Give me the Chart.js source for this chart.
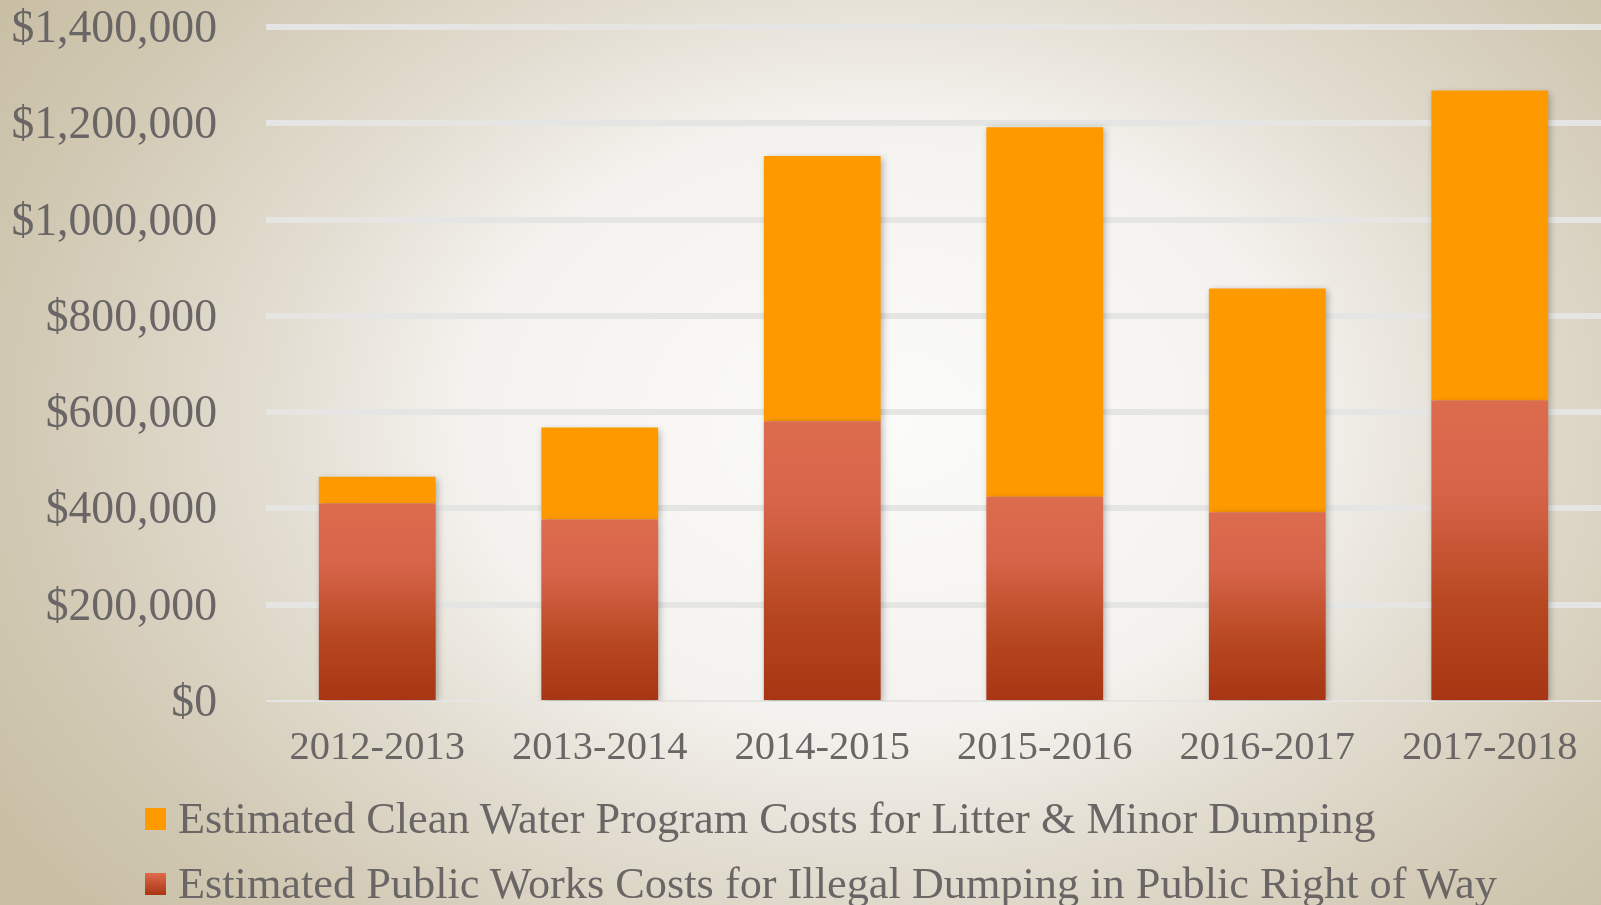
<!DOCTYPE html>
<html>
<head>
<meta charset="utf-8">
<script src="https://cdn.jsdelivr.net/npm/chart.js@4"></script>
<style>
  html, body { margin: 0; padding: 0; overflow: hidden; }
  body {
    width: 1601px; height: 905px;
    background: radial-gradient(ellipse 1040px 760px at 880px 420px, #fbfbf9 0%, #f4f2ee 40%, #e3ded2 58%, #d2c9b4 83%, #c9bfa5 100%);
  }
  #wrap { position: relative; width: 1601px; height: 905px; }
  .legend { position: absolute; left: 145px; font-family: "Liberation Serif", serif; font-size: 44.3px; color: #6a6666; white-space: nowrap; }
  .legend span.sw { display: inline-block; width: 21px; height: 22px; margin-right: 12px; vertical-align: middle; position: relative; top: -4px; }
</style>
</head>
<body>
<div id="wrap">
  <canvas id="costs"></canvas>
  <div class="legend" style="top:793px"><span class="sw" style="background:#ff9900"></span>Estimated Clean Water Program Costs for Litter &amp; Minor Dumping</div>
  <div class="legend" style="top:858px"><span class="sw" style="background:linear-gradient(#dd6b4d,#a83513)"></span>Estimated Public Works Costs for Illegal Dumping in Public Right of Way</div>
</div>
<script>
// fiscal years
const years = ["2012-2013", "2013-2014", "2014-2015", "2015-2016", "2016-2017", "2017-2018"];
// public works (red, bottom of stack)
const publicWorks = [410000, 377000, 581000, 424000, 392000, 624000];
// clean water program (orange, on top)
const cleanWater = [56000, 191000, 551000, 768000, 465000, 644000];
// y axis ticks
const yMax = 1400000;
const yStep = 200000;

// red segment gets its own gradient, light at top dark at bottom
function redFill(ctx) {
  const chart = ctx.chart;
  const y = chart.scales.y;
  if (!y || ctx.dataIndex === undefined) return '#c9502c';
  const top = y.getPixelForValue(publicWorks[ctx.dataIndex]);
  const bottom = y.getPixelForValue(0);
  if (!isFinite(top) || !isFinite(bottom) || top === bottom) return '#c9502c';
  const g = chart.ctx.createLinearGradient(0, top, 0, bottom);
  g.addColorStop(0, '#dd6b4d');
  g.addColorStop(0.3, '#d76449');
  g.addColorStop(0.7, '#b6461f');
  g.addColorStop(1, '#a83513');
  return g;
}

// soft shadow under bars
const barShadow = {
  id: 'barShadow',
  beforeDatasetsDraw(chart) {
    const c = chart.ctx;
    c.save();
    c.shadowColor = 'rgba(0,0,0,0.3)';
    c.shadowBlur = 7;
    c.shadowOffsetX = 2;
    c.shadowOffsetY = 2;
  },
  afterDatasetsDraw(chart) {
    chart.ctx.restore();
  }
};

const data = {
  labels: years,
  datasets: [
    { label: 'Estimated Public Works Costs for Illegal Dumping in Public Right of Way', data: publicWorks, backgroundColor: redFill },
    { label: 'Estimated Clean Water Program Costs for Litter & Minor Dumping', data: cleanWater, backgroundColor: '#ff9900' }
  ]
};

const config = {
  type: 'bar',
  data,
  options: {
    responsive: true,
    maintainAspectRatio: false,
    animation: false,
    categoryPercentage: 1,
    barPercentage: 0.525,
    layout: { autoPadding: false, padding: { left: 13, right: 0, top: 27, bottom: 132 } },
    plugins: { legend: { display: false }, tooltip: { enabled: false } },
    scales: {
      x: {
        stacked: true,
        grid: { display: false, drawTicks: false },
        border: { display: false },
        ticks: { padding: 23, color: '#6a6666', font: { family: 'Liberation Serif', size: 40.5 } },
        afterFit(s) { s.height = 72; s.paddingLeft = 0; s.paddingRight = 0; }
      },
      y: {
        stacked: true,
        min: 0,
        max: yMax,
        border: { display: false },
        grid: {
          drawTicks: false,
          color: '#e5e5e4',
          lineWidth: (c) => (c.tick && c.tick.value === 0 ? 2 : 6)
        },
        ticks: {
          stepSize: yStep,
          padding: 49,
          labelOffset: 3,
          color: '#6a6666',
          font: { family: 'Liberation Serif', size: 45.7 },
          callback: (v) => '$' + v.toLocaleString('en-US')
        },
        afterFit(s) { s.width = 253; s.paddingTop = 0; s.paddingBottom = 0; }
      }
    }
  },
  plugins: [barShadow]
};

const canvas = document.getElementById('costs');
const chart = new Chart(canvas, config);
</script>
</body>
</html>
